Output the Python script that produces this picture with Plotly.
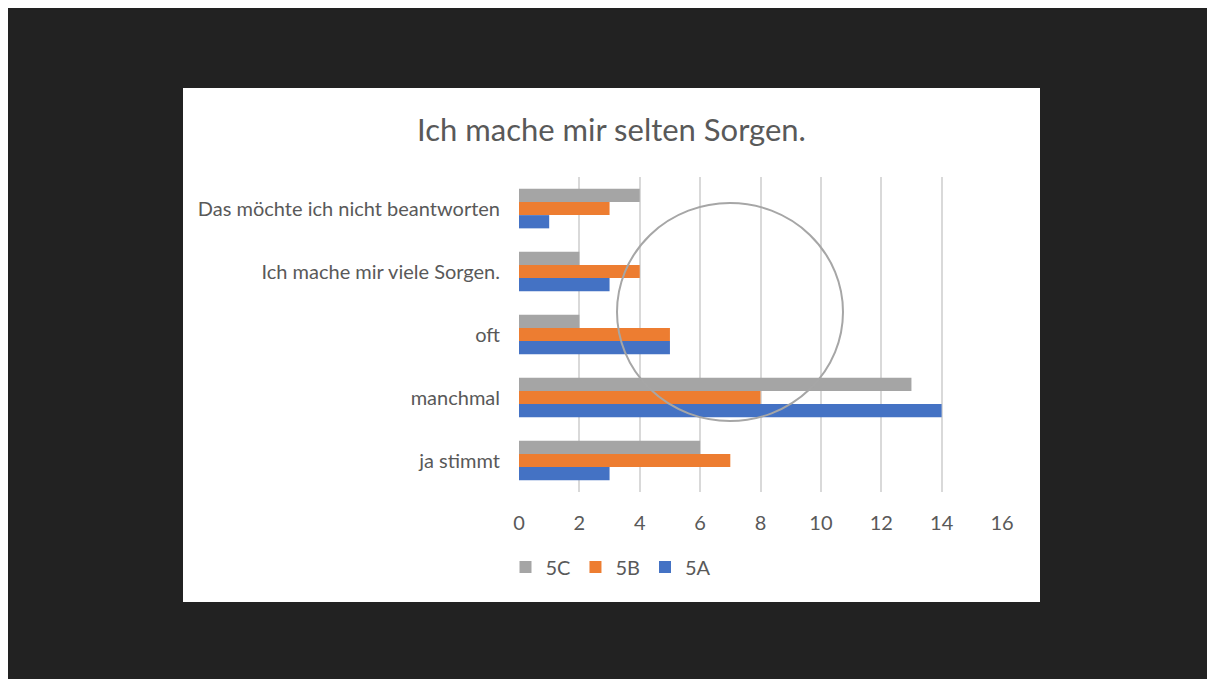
import plotly.graph_objects as go

categories = ["ja stimmt", "manchmal", "oft", "Ich mache mir viele Sorgen.", "Das möchte ich nicht beantworten"]
values_5A = [3, 14, 5, 3, 1]
values_5B = [7, 8, 5, 4, 3]
values_5C = [6, 13, 2, 2, 4]
x_ticks = [0, 2, 4, 6, 8, 10, 12, 14, 16]

OFF = 8  # page body margin
W, H = 1215 - OFF, 679 - OFF
L, R, T, B = 519 - OFF, 1002 - OFF, 177 - OFF, 492 - OFF  # plot area pixels

def px_x(p):
    return (p - OFF - L) / (R - L)

def px_y(p):
    return (B - (p - OFF)) / (B - T)

FONT = "Lato"
TXT = "#595959"

fig = go.Figure()
for name, vals, col in [("5A", values_5A, "#4472C4"), ("5B", values_5B, "#ED7D31"), ("5C", values_5C, "#A5A5A5")]:
    fig.add_trace(go.Bar(y=categories, x=vals, name=name, orientation="h",
                         marker=dict(color=col, line=dict(width=0))))

fig.update_layout(
    width=W, height=H,
    margin=dict(l=L, r=W - R, t=T, b=H - B, autoexpand=False),
    paper_bgcolor="#222222", plot_bgcolor="rgba(0,0,0,0)",
    barmode="group", bargap=0.37, bargroupgap=0,
    font=dict(family=FONT, color=TXT, size=20),
    title=dict(text="Ich mache mir selten Sorgen.", x=(611.5 - OFF) / W, xanchor="center",
               y=1 - (130 - OFF) / H, yanchor="middle", yref="container",
               font=dict(family=FONT, size=31, color=TXT)),
    legend=dict(orientation="h", traceorder="reversed", x=px_x(611), xanchor="center",
                y=px_y(567), yanchor="middle", font=dict(size=20, color=TXT),
                bgcolor="rgba(0,0,0,0)", itemwidth=30),
    xaxis=dict(range=[0, 16], tickvals=x_ticks, showgrid=True, gridcolor="#d9d9d9", gridwidth=1.5,
               zeroline=False, showline=False, ticklabelstandoff=17, tickfont=dict(size=20, color=TXT),
               fixedrange=True),
    yaxis=dict(showgrid=False, zeroline=False, showline=False, ticklabelstandoff=18,
               tickfont=dict(size=20, color=TXT)),
    shapes=[
        dict(type="rect", xref="paper", yref="paper", x0=px_x(183), x1=px_x(1040),
             y0=px_y(602), y1=px_y(88), fillcolor="white", line=dict(width=0), layer="below"),
        dict(type="circle", xref="paper", yref="paper", x0=px_x(617), x1=px_x(843),
             y0=px_y(421), y1=px_y(203), line=dict(color="#a6a6a6", width=2), layer="above"),
    ],
)

fig.write_html("out.html")
